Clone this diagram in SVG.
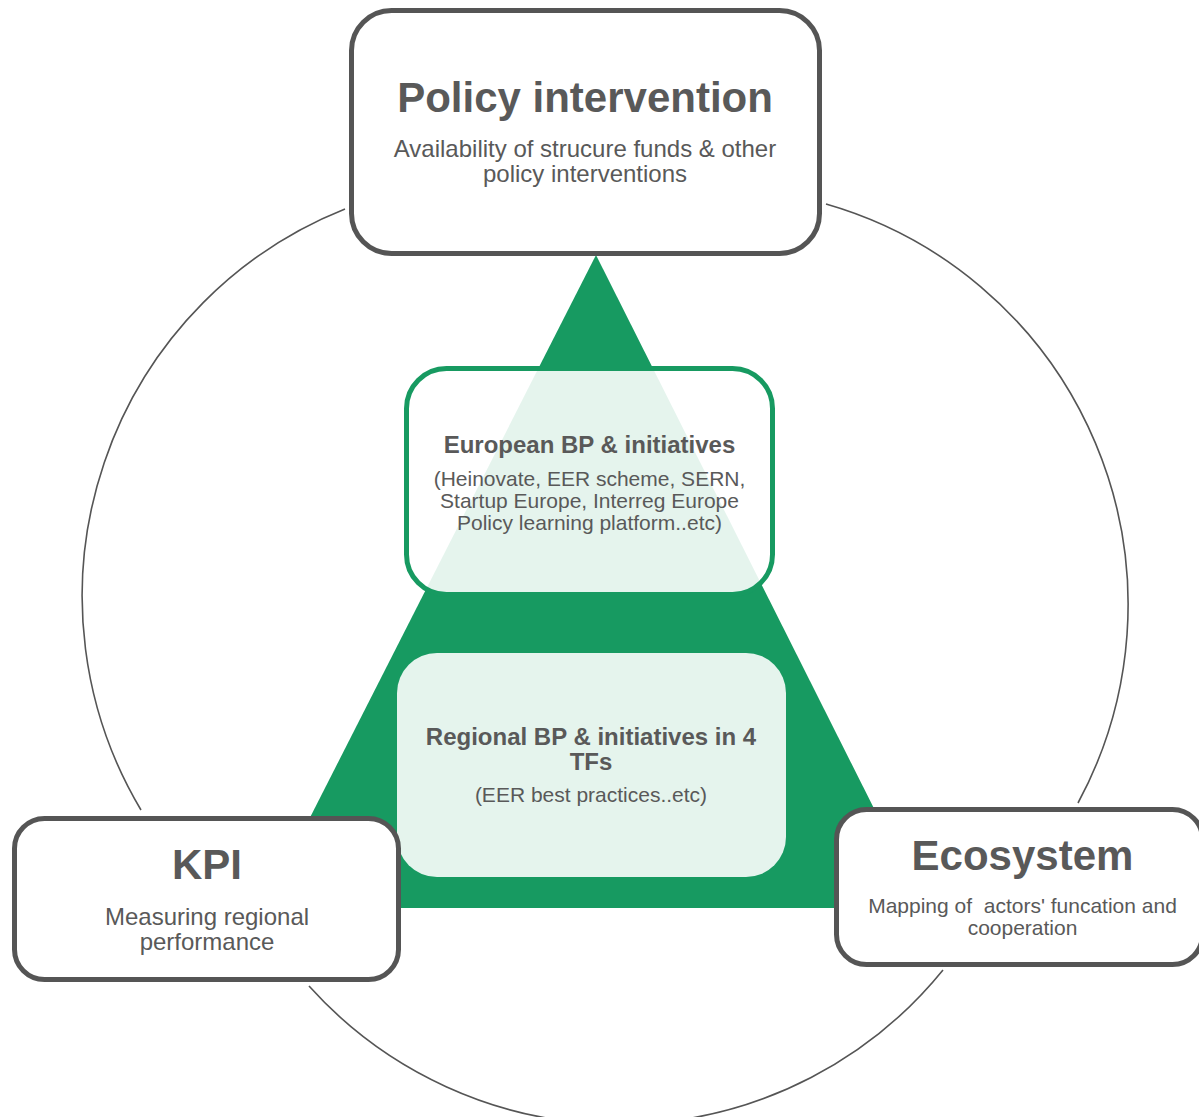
<svg xmlns="http://www.w3.org/2000/svg" width="1199" height="1117" viewBox="0 0 1199 1117">
<style>
.arc{fill:none;stroke:#555555;stroke-width:1.6}
.box{fill:#ffffff;stroke:#555555;stroke-width:5}
.t{font-family:"Liberation Sans",Arial,Helvetica,sans-serif;fill:#595959;text-anchor:middle}
.h1{font-size:42px;font-weight:bold}
.h2{font-size:24px;font-weight:bold}
.s24{font-size:24px}
.s21{font-size:21px}
</style>
<rect x="0" y="0" width="1199" height="1117" fill="#ffffff"/>
<g id="connectors">
<path class="arc" d="M345,209 A417,417 0 0 0 141,810"/>
<path class="arc" d="M309,986 A417,417 0 0 0 943,970"/>
<path class="arc" d="M1078,803 A417,417 0 0 0 826,204"/>
</g>
<g id="pyramid">
<polygon points="596,255 264,908 924,908" fill="#179a61"/>
</g>
<g id="european">
<rect x="406.5" y="368.5" width="366" height="226" rx="40" fill="#ffffff" fill-opacity="0.89" stroke="#179a61" stroke-width="5"/>
<text class="t h2" x="589.5" y="453">European BP &amp; initiatives</text>
<text class="t s21" x="589.5" y="486">(Heinovate, EER scheme, SERN,</text>
<text class="t s21" x="589.5" y="508">Startup Europe, Interreg Europe</text>
<text class="t s21" x="589.5" y="530">Policy learning platform..etc)</text>
</g>
<g id="regional">
<rect x="397" y="653" width="389" height="224" rx="40" fill="#ffffff" fill-opacity="0.89"/>
<text class="t h2" x="591" y="745">Regional BP &amp; initiatives in 4</text>
<text class="t h2" x="591" y="770">TFs</text>
<text class="t s21" x="591" y="802">(EER best practices..etc)</text>
</g>
<g id="policy">
<rect class="box" x="351.5" y="10.5" width="468" height="243" rx="40"/>
<text class="t h1" x="585" y="112">Policy intervention</text>
<text class="t s24" x="585" y="157">Availability of strucure funds &amp; other</text>
<text class="t s24" x="585" y="182">policy interventions</text>
</g>
<g id="kpi">
<rect class="box" x="14.5" y="818.5" width="384" height="161" rx="30"/>
<text class="t h1" x="207" y="879">KPI</text>
<text class="t s24" x="207" y="925">Measuring regional</text>
<text class="t s24" x="207" y="950">performance</text>
</g>
<g id="ecosystem">
<rect class="box" x="836.5" y="809.5" width="366" height="155" rx="30"/>
<text class="t h1" x="1022.5" y="870">Ecosystem</text>
<text class="t s21" x="1022.5" y="913" xml:space="preserve">Mapping of  actors' funcation and</text>
<text class="t s21" x="1022.5" y="935">cooperation</text>
</g>
</svg>
